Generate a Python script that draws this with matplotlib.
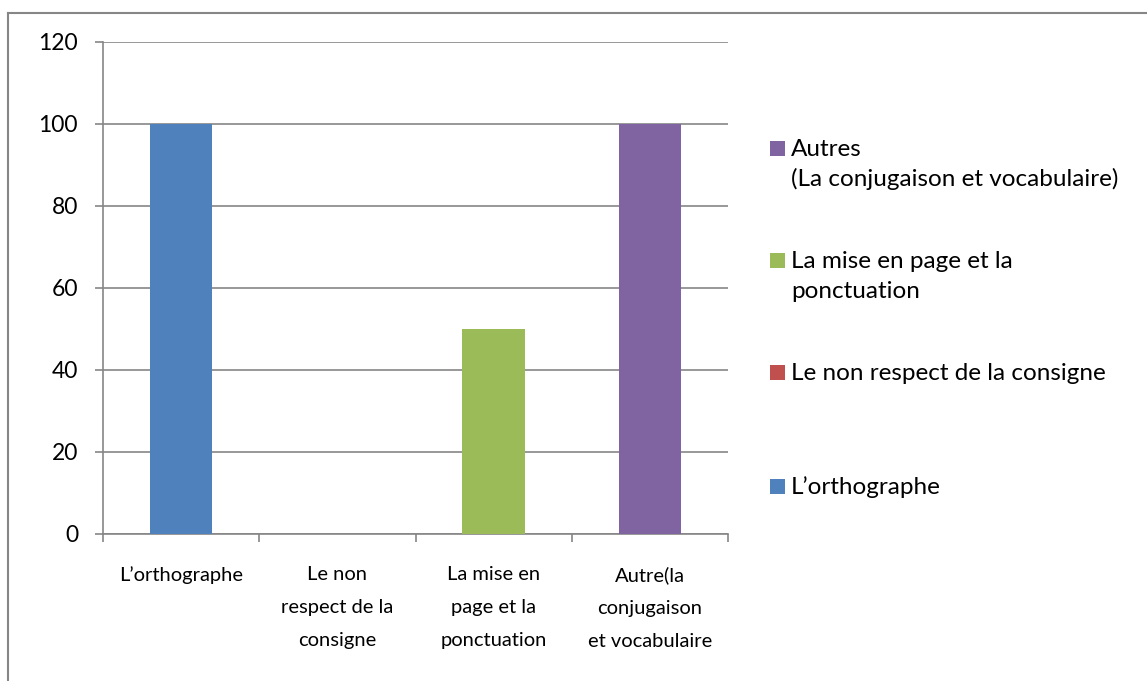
import matplotlib
matplotlib.use("Agg")
import matplotlib.pyplot as plt
from matplotlib.lines import Line2D
from matplotlib.patches import Rectangle

categories = ["L’orthographe", "Le non\nrespect de la\nconsigne",
              "La mise en\npage et la\nponctuation", "Autre(la\nconjugaison\net vocabulaire"]
values = [100, 0, 50, 100]
colors = ["#4F81BD", "#C0504D", "#9BBB59", "#8064A2"]
legend_labels = ["L’orthographe", "Le non respect de la consigne",
                 "La mise en page et la\nponctuation", "Autres\n(La conjugaison et vocabulaire)"]
yticks = [0, 20, 40, 60, 80, 100, 120]

main_font = ["Lato", "DejaVu Sans"]

GRAY = "#868686"
W, H = 1147, 681
fig = plt.figure(figsize=(W / 100, H / 100), dpi=100)
ax = fig.add_axes([103 / W, 1 - 534 / H, 625 / W, 492 / H])

x = list(range(len(categories)))
ax.bar(x, values, width=0.4, color=colors, zorder=3)
ax.set_xlim(-0.5, len(categories) - 0.5)
ax.set_ylim(0, 120)
ax.set_yticks(yticks)
ax.set_yticklabels([str(v) for v in yticks], fontsize=16.5, family=main_font)
ax.yaxis.grid(True, color=GRAY, lw=1.2, zorder=0)
ax.set_axisbelow(True)
ax.tick_params(axis="y", length=6, width=1.2, color=GRAY, pad=12)

ax.set_xticks(x)
ax.set_xticklabels(categories, fontsize=14.5, linespacing=2.15, family=main_font)
ax.set_xticks([i - 0.5 for i in range(len(categories) + 1)], minor=True)
ax.tick_params(axis="x", which="major", length=0, pad=23)
ax.tick_params(axis="x", which="minor", length=6, width=1.2, color=GRAY)

for s in ["top", "right"]:
    ax.spines[s].set_visible(False)
for s in ["left", "bottom"]:
    ax.spines[s].set_color(GRAY)
    ax.spines[s].set_linewidth(1.2)

# outer border (top and left visible)
fig.add_artist(Line2D([8 / W, 1], [1 - 13 / H, 1 - 13 / H], color=GRAY, lw=1.5, transform=fig.transFigure))
fig.add_artist(Line2D([8 / W, 8 / W], [1 - 13 / H, 0], color=GRAY, lw=1.5, transform=fig.transFigure))

# legend (reverse order), marker aligned with first text line
marker_centers = [486, 372, 260, 148]
line_px = 31
for lab, col, yc in zip(legend_labels, colors, marker_centers):
    fig.add_artist(Rectangle((770 / W, 1 - (yc + 7.5) / H), 15 / W, 15 / H,
                             color=col, lw=0, transform=fig.transFigure))
    for k, line in enumerate(lab.split("\n")):
        fig.text(791 / W, 1 - (yc + 7.5 + k * line_px) / H, line, fontsize=17.5,
                 family=main_font, va="baseline", ha="left")

fig.savefig("out.png", dpi=100)
